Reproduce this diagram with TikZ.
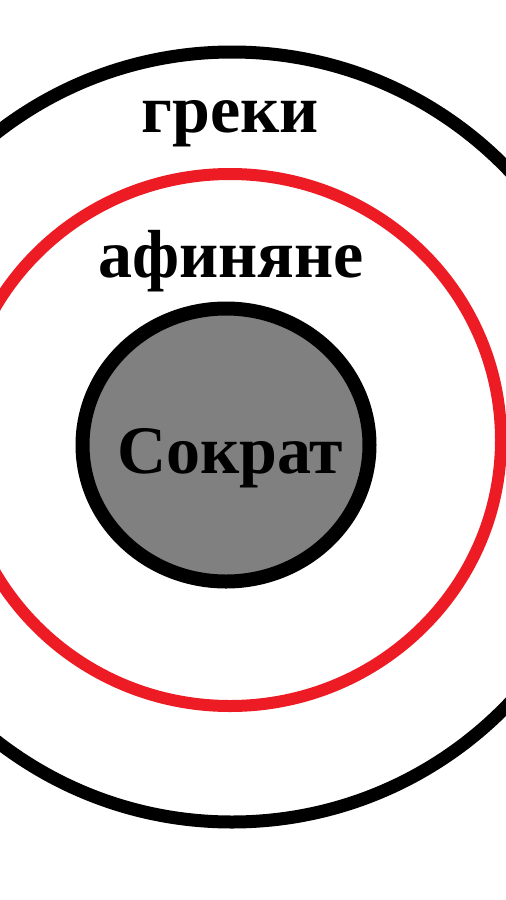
\documentclass[tikz,border=0pt]{standalone}
\usepackage{fontspec}
\setmainfont{Liberation Serif}

\tikzset{every picture/.style={line width=0.75pt}}

\begin{document}
\begin{tikzpicture}[x=0.75pt,y=0.75pt,yscale=-1,xscale=1]
			\useasboundingbox (0,0) rectangle (506,900);
			\clip (0,0) rectangle (506,900);

			%Shape: Ellipse [id:greeks]
			\draw  [line width=9.75pt] (232,437) ellipse [x radius=384, y radius=385] ;
			%Shape: Ellipse [id:athenians]
			\draw  [color={rgb, 255:red, 237; green, 28; blue, 36 }  ,line width=9pt] (230,440) ellipse [x radius=271, y radius=266] ;
			%Shape: Ellipse [id:socrates]
			\draw  [fill={rgb, 255:red, 128; green, 128; blue, 128 }  ,line width=10.5pt] (226,445) ellipse [x radius=143.5, y radius=136.5] ;

			% Text Node
			\node (greki) at (230,132) [anchor=base][inner sep=0.75pt]  [font=\fontsize{51}{60}\selectfont\bfseries] {греки};
			% Text Node
			\node (afinyane) at (231,277) [anchor=base][inner sep=0.75pt]  [font=\fontsize{51}{60}\selectfont\bfseries] {афиняне};
			% Text Node
			\node (sokrat) at (230,473) [anchor=base][inner sep=0.75pt]  [font=\fontsize{51}{60}\selectfont\bfseries] {Сократ};

\end{tikzpicture}
\end{document}
